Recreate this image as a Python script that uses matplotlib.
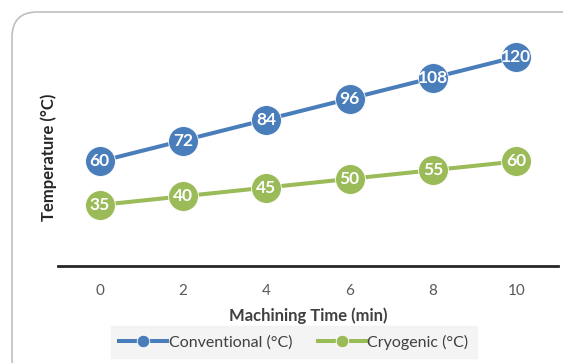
import numpy as np
import matplotlib.pyplot as plt
from matplotlib.patches import FancyBboxPatch

# machining time (min) and tool-chip interface temperature
time_min = [0, 2, 4, 6, 8, 10]
conventional = [60, 72, 84, 96, 108, 120]
cryogenic = [35, 40, 45, 50, 55, 60]
series_names = ['Conventional (°C)', 'Cryogenic (°C)']

blue = '#4A7EBB'
green = '#9BBB59'

plt.rcParams['font.family'] = ['Lato', 'DejaVu Sans']

W, H = 563, 363
fig = plt.figure(figsize=(W / 100, H / 100), dpi=100)
fig.patch.set_facecolor('white')

# rounded chart frame, running off the right and bottom edges
frame = FancyBboxPatch((12 / W, -20 / H), 600 / W, (H - 12 + 20) / H,
                       boxstyle='round,pad=0,rounding_size=0.045',
                       transform=fig.transFigure, facecolor='none',
                       edgecolor='#BFBFBF', linewidth=1.2, mutation_aspect=W / H,
                       zorder=-1)
fig.patches.append(frame)

ax = fig.add_axes([58 / W, (H - 266) / H, 500 / W, 244 / H])
ax.set_facecolor('none')

for vals, col, name in [(conventional, blue, series_names[0]),
                        (cryogenic, green, series_names[1])]:
  ax.plot(time_min, vals, color=col, lw=2.9, marker='o', ms=21.5,
          mec='white', mew=0.6, mfc=col, label=name, zorder=3)
  for x, v in zip(time_min, vals):
    ax.text(x, v, str(v), ha='center', va='center', color='white',
            fontsize=12.5, fontweight='bold', zorder=4)

ax.set_xlim(-1, 11)
ax.set_ylim(0, 140)
ax.set_xticks(time_min)
ax.set_yticks([])
ax.tick_params(axis='x', length=0, pad=13, labelsize=11, labelcolor='#595959')
for s in ['top', 'right', 'left']:
  ax.spines[s].set_visible(False)
ax.spines['bottom'].set_color('#262626')
ax.spines['bottom'].set_linewidth(2)

ax.set_xlabel('Machining Time (min)', fontsize=12, fontweight='bold',
              color='#404040', labelpad=7)
ax.set_ylabel('Temperature (°C)', fontsize=12, fontweight='bold',
              color='#262626')
ax.yaxis.set_label_coords(-0.002, (266 - 157) / 244)

leg = ax.legend(loc='center', bbox_to_anchor=(294 / W, (H - 342) / H),
                bbox_transform=fig.transFigure, ncol=2, frameon=True,
                fontsize=11.5, handlelength=3.0, columnspacing=1.6,
                handletextpad=0.1, borderpad=0.5, fancybox=False,
                markerscale=0.42)
leg.get_frame().set_facecolor('#F2F2F2')
leg.get_frame().set_edgecolor('#F2F2F2')
for t in leg.get_texts():
  t.set_color('#404040')

fig.savefig('out.png', dpi=100)
